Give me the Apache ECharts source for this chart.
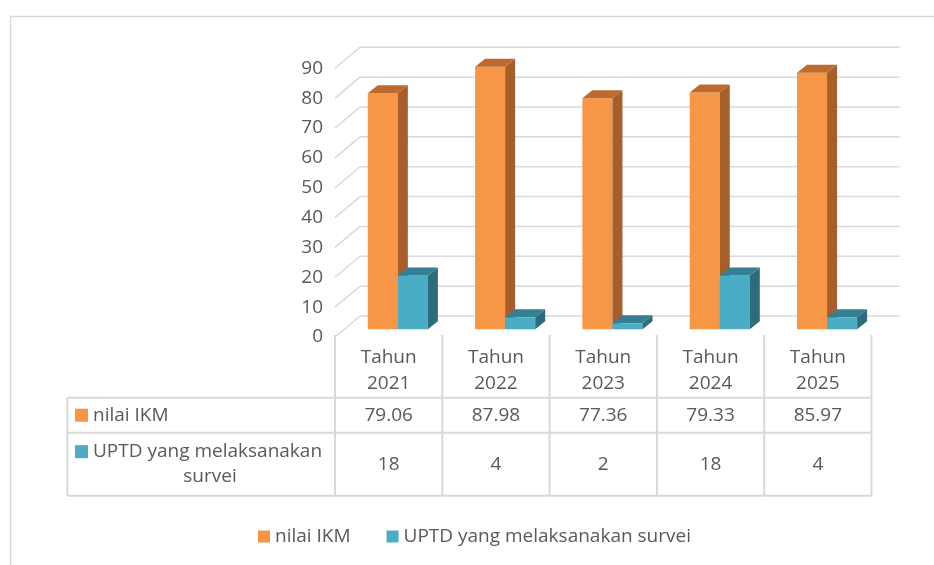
<!DOCTYPE html>
<html>
<head>
<meta charset="utf-8">
<script src="https://cdn.jsdelivr.net/npm/echarts@6/dist/echarts.min.js"></script>
<style>
  html, body { margin: 0; padding: 0; background: #fff; }
  #main { width: 934px; height: 565px; }
</style>
</head>
<body>
<div id="main"></div>
<script>
var categories = ['Tahun 2021', 'Tahun 2022', 'Tahun 2023', 'Tahun 2024', 'Tahun 2025'];
var nilaiIKM = [79.06, 87.98, 77.36, 79.33, 85.97];
var uptd = [18, 4, 2, 18, 4];
var yTicks = [0, 10, 20, 30, 40, 50, 60, 70, 80, 90];
var seriesNames = ['nilai IKM', 'UPTD yang melaksanakan survei'];

var FONT = '"Open Sans", Lato, sans-serif';
var FS = 19;
var TXT = '#595959';
var LINE = '#d9d9d9';
// perspective: floor depth, bar front offset, bar depth
var DEPTH = [25, -21];
var FRONT = [9.2, -7.7];
var BDEPTH = [10, -8];

var orange = { front: '#f79646', side: '#a65f2b', top: '#bd6a2e' };
var teal = { front: '#4bacc6', side: '#2e6c7d', top: '#347f93' };

// table rows (pixel layout)
var tabTop = 335, headBottom = 397.7, row1Bottom = 432.7, row2Bottom = 495.7, tabLeft = 67.3;

function renderWall(params, api) {
    var cs = params.coordSys;
    var y = api.coord([0, api.value(1)])[1];
    var st = { stroke: LINE, lineWidth: 1.5 };
    return {
        type: 'group',
        children: [
            { type: 'line', shape: { x1: cs.x, y1: y, x2: cs.x + DEPTH[0], y2: y + DEPTH[1] }, style: st },
            { type: 'line', shape: { x1: cs.x + DEPTH[0], y1: y + DEPTH[1], x2: cs.x + cs.width + DEPTH[0] + 3, y2: y + DEPTH[1] }, style: st }
        ]
    };
}

function barRenderer(side, col) {
    return function (params, api) {
        var i = api.value(0), v = api.value(1);
        var top = api.coord([i, v]), base = api.coord([i, 0]);
        var w = api.size([1, 0])[0] * 0.28;
        var x0 = top[0] + FRONT[0] + (side < 0 ? -w : 0);
        var x1 = x0 + w;
        var yT = top[1] + FRONT[1], yB = base[1] + FRONT[1];
        var bx = BDEPTH[0], by = BDEPTH[1];
        return {
            type: 'group',
            children: [
                { type: 'rect', shape: { x: x0, y: yT, width: w, height: yB - yT }, style: { fill: col.front } },
                { type: 'polygon', shape: { points: [[x1, yT], [x1 + bx, yT + by], [x1 + bx, yB + by], [x1, yB]] }, style: { fill: col.side } },
                { type: 'polygon', shape: { points: [[x0, yT], [x0 + bx, yT + by], [x1 + bx, yT + by], [x1, yT]] }, style: { fill: col.top } }
            ]
        };
    };
}

function renderTable(params, api) {
    var i = params.dataIndex;
    var c = api.coord([i, 0])[0];
    var cw = api.size([1, 0])[0];
    var xl = c - cw / 2, xr = c + cw / 2;
    var st = { stroke: LINE, lineWidth: 2 };
    var font = FS + 'px ' + FONT;
    var ch = [];
    ch.push({ type: 'line', shape: { x1: xl, y1: tabTop, x2: xl, y2: row2Bottom }, style: st });
    if (i === categories.length - 1) {
        ch.push({ type: 'line', shape: { x1: xr, y1: tabTop, x2: xr, y2: row2Bottom }, style: st });
    }
    [headBottom, row1Bottom, row2Bottom].forEach(function (y) {
        ch.push({ type: 'line', shape: { x1: xl, y1: y, x2: xr, y2: y }, style: st });
    });
    var ts = { fill: TXT, font: font, align: 'center', verticalAlign: 'middle' };
    ch.push({ type: 'text', style: Object.assign({ x: c, y: (tabTop + headBottom) / 2 + 4, text: categories[i].replace(' ', '\n'), lineHeight: 26 }, ts) });
    ch.push({ type: 'text', style: Object.assign({ x: c, y: (headBottom + row1Bottom) / 2, text: nilaiIKM[i].toFixed(2) }, ts) });
    ch.push({ type: 'text', style: Object.assign({ x: c, y: (row1Bottom + row2Bottom) / 2, text: String(uptd[i]) }, ts) });

    if (i === 0) {
        // label column
        ch.push({ type: 'line', shape: { x1: tabLeft, y1: headBottom, x2: tabLeft, y2: row2Bottom }, style: st });
        [headBottom, row1Bottom, row2Bottom].forEach(function (y) {
            ch.push({ type: 'line', shape: { x1: tabLeft, y1: y, x2: xl, y2: y }, style: st });
        });
        var y1 = (headBottom + row1Bottom) / 2;
        ch.push({ type: 'rect', shape: { x: 75, y: y1 - 6.5, width: 13, height: 13 }, style: { fill: orange.front } });
        ch.push({ type: 'text', style: { x: 93, y: y1, text: seriesNames[0], fill: TXT, font: font, align: 'left', verticalAlign: 'middle' } });
        var y2 = (row1Bottom + row2Bottom) / 2;
        ch.push({ type: 'rect', shape: { x: 75, y: y2 - 19, width: 13, height: 13 }, style: { fill: teal.front } });
        ch.push({ type: 'text', style: { x: 93, y: y2 - 12.5, text: 'UPTD yang melaksanakan', fill: TXT, font: font, align: 'left', verticalAlign: 'middle' } });
        ch.push({ type: 'text', style: { x: 210, y: y2 + 12.5, text: 'survei', fill: TXT, font: font, align: 'center', verticalAlign: 'middle' } });
    }
    return { type: 'group', children: ch };
}

var myChart = echarts.init(document.getElementById('main'));
var option = {
    animation: false,
    backgroundColor: '#fff',
    graphic: [{
        type: 'rect', left: 8, top: 14, silent: true,
        shape: { width: 1000, height: 1000 },
        style: { fill: null, stroke: LINE, lineWidth: 1.5 }
    }],
    grid: { left: 335, right: 62.5, top: 68.3, bottom: 228 },
    legend: {
        data: seriesNames,
        left: 253,
        top: 522,
        icon: 'rect',
        itemWidth: 12,
        itemHeight: 12,
        itemGap: 36,
        textStyle: { color: TXT, fontSize: FS, fontFamily: FONT }
    },
    xAxis: {
        type: 'category',
        data: categories,
        axisLine: { show: false },
        axisTick: { show: false },
        axisLabel: { show: false },
        splitLine: { show: false }
    },
    yAxis: {
        type: 'value',
        min: 0,
        max: 90,
        interval: 10,
        axisLine: { show: false },
        axisTick: { show: false },
        splitLine: { show: false },
        axisLabel: { color: TXT, fontSize: FS, fontFamily: FONT, margin: 12 }
    },
    series: [
        {
            name: 'walls', type: 'custom', silent: true, z: 1,
            renderItem: renderWall,
            encode: { x: 0, y: 1 },
            data: yTicks.map(function (v) { return [0, v]; })
        },
        {
            name: seriesNames[0], type: 'custom', z: 2,
            itemStyle: { color: orange.front },
            renderItem: barRenderer(-1, orange),
            encode: { x: 0, y: 1 },
            data: nilaiIKM.map(function (v, i) { return [i, v]; })
        },
        {
            name: seriesNames[1], type: 'custom', z: 3,
            itemStyle: { color: teal.front },
            renderItem: barRenderer(1, teal),
            encode: { x: 0, y: 1 },
            data: uptd.map(function (v, i) { return [i, v]; })
        },
        {
            name: 'table', type: 'custom', silent: true, z: 1,
            renderItem: renderTable,
            encode: { x: 0, y: 1 },
            data: categories.map(function (c, i) { return [i, 0]; })
        }
    ]
};
myChart.clear();
myChart.setOption(option);
</script>
</body>
</html>
